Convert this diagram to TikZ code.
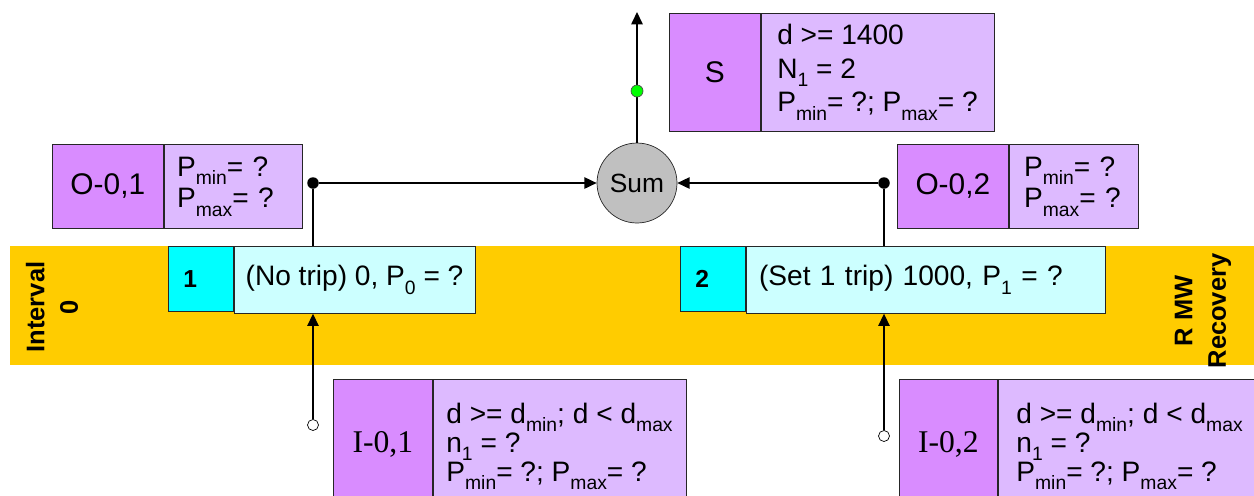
\documentclass[tikz,border=0pt]{standalone}
\usepackage{fontspec}
\setmainfont{Liberation Sans}
\newfontfamily\serifface{Liberation Serif}
\usetikzlibrary{arrows.meta,positioning}

\definecolor{tagpurple}{RGB}{217,140,255}
\definecolor{infopurple}{RGB}{221,186,255}
\definecolor{numcyan}{RGB}{0,255,255}
\definecolor{tripcyan}{RGB}{204,255,255}
\definecolor{bandorange}{RGB}{255,204,0}
\definecolor{sumgray}{RGB}{192,192,192}

% lowered subscript, as the slide sets it
\newcommand{\lowsub}[1]{\raisebox{-0.3em}{\fontsize{11}{11}\selectfont #1}}

\tikzset{
  tag/.style={draw=black!85, fill=tagpurple, inner sep=0pt, anchor=north west,
    font=\fontsize{17}{20}\selectfont},
  info/.style={draw=black!85, fill=infopurple, inner sep=0pt, align=left},
  numbox/.style={draw=black!85, fill=numcyan, inner xsep=0.3cm, inner ysep=0pt, anchor=north west,
    minimum width=1.3cm, minimum height=1.3cm, text width=0.7cm, align=left,
    font=\bfseries\fontsize{14}{16}\selectfont},
  tripbox/.style={draw=black!85, fill=tripcyan, inner xsep=0.26cm, inner ysep=0pt, anchor=north west,
    minimum height=1.34cm, align=left},
  bandlabel/.style={align=center, rotate=90, font=\bfseries\fontsize{14.5}{19}\selectfont},
  bdot/.style={circle, fill=black, inner sep=0pt, minimum size=0.23cm},
  gdot/.style={circle, draw=black!70, fill=green, inner sep=0pt, minimum size=0.24cm},
  odot/.style={circle, draw=black, fill=white, inner sep=0pt, minimum size=0.22cm},
  wire/.style={line width=0.75pt}
}

\begin{document}
\begin{tikzpicture}[x=0.02cm, y=-0.02cm, >={Triangle[length=7pt,width=6.5pt]},
  font=\fontsize{16}{19}\selectfont]
\useasboundingbox (0,0) rectangle (1254,495);
\clip (0,0) rectangle (1254,495);

% interval band
\fill[bandorange] (10,246) rectangle (1254,365);
\node[bandlabel] (ivl) at (52,307) {Interval\\0};
\node[bandlabel] (rmw) at (1203,311) {R MW\\Recovery};

% trip states
\node[numbox] (n1) at (168,246) {1};
\node[tripbox, minimum width=4.82cm, inner xsep=0pt] (t1) at (n1.north east) {(No trip) 0, P\lowsub{0} = ?};
\node[numbox] (n2) at (680,246) {2};
\node[tripbox, text width=6.66cm] (t2) at (n2.north east) {(Set 1 trip) 1000, P\lowsub{1} = ?};

% output side
\node[circle, draw=black!85, fill=sumgray, minimum size=1.6cm, inner sep=0pt,
  font=\fontsize{15}{18}\selectfont] (sum) at (637,183) {Sum};
\coordinate (out) at (637,12);
\node[bdot] (jl) at (313,183) {};
\node[bdot] (jr) at (884,183) {};

\node[tag, minimum width=1.82cm, minimum height=2.36cm] (s) at (669,13) {S};
\node[info, right=0pt of s, minimum width=4.66cm, minimum height=2.36cm, font=\fontsize{16}{19.2}\selectfont]
  (sinfo) {d >= 1400\\N\lowsub{1} = 2\\P\lowsub{min}= ?; P\lowsub{max}= ?};

\node[tag, minimum width=2.22cm, minimum height=1.68cm] (o1) at (52,144) {O-0,1};
\node[info, right=0pt of o1, inner xsep=0.26cm, text width=2.24cm, minimum height=1.68cm, font=\fontsize{16}{18}\selectfont]
  (o1info) {P\lowsub{min}= ?\\P\lowsub{max}= ?};
\node[tag, minimum width=2.22cm, minimum height=1.68cm] (o2) at (897,144) {O-0,2};
\node[info, right=0pt of o2, inner xsep=0.3cm, text width=1.98cm, minimum height=1.68cm, font=\fontsize{16}{18}\selectfont]
  (o2info) {P\lowsub{min}= ?\\P\lowsub{max}= ?};

% input side
\node[odot] (il) at (313,425) {};
\node[odot] (ir) at (884,436) {};
\node[tag, minimum width=1.98cm, minimum height=2.62cm, font=\serifface\fontsize{18}{20}\selectfont]
  (i1) at (333,379) {I-0,1};
\node[info, anchor=north west, minimum width=5.06cm, minimum height=2.68cm, font=\fontsize{16}{16.5}\selectfont]
  (i1info) at (i1.north east) {d >= d\lowsub{min}; d < d\lowsub{max}\\n\lowsub{1} = ?\\P\lowsub{min}= ?; P\lowsub{max}= ?};
\node[tag, minimum width=1.96cm, minimum height=2.62cm, font=\serifface\fontsize{18}{20}\selectfont]
  (i2) at (899,379) {I-0,2};
\node[info, anchor=north west, minimum width=5.26cm, minimum height=2.68cm, font=\fontsize{16}{16.5}\selectfont]
  (i2info) at (i2.north east) {d >= d\lowsub{min}; d < d\lowsub{max}\\n\lowsub{1} = ?\\P\lowsub{min}= ?; P\lowsub{max}= ?};

% connectors
\draw[wire, ->] (sum) -- (out);
\node[gdot] (ok) at (637,91) {};
\draw[wire, ->] (jl) -- (sum);
\draw[wire, ->] (jr) -- (sum);
\draw[wire] (jl) -- (jl |- t1.north);
\draw[wire] (jr) -- (jr |- t2.north);
\draw[wire, ->] (il) -- (il |- t1.south);
\draw[wire, ->] (ir) -- (ir |- t2.south);
\end{tikzpicture}
\end{document}
